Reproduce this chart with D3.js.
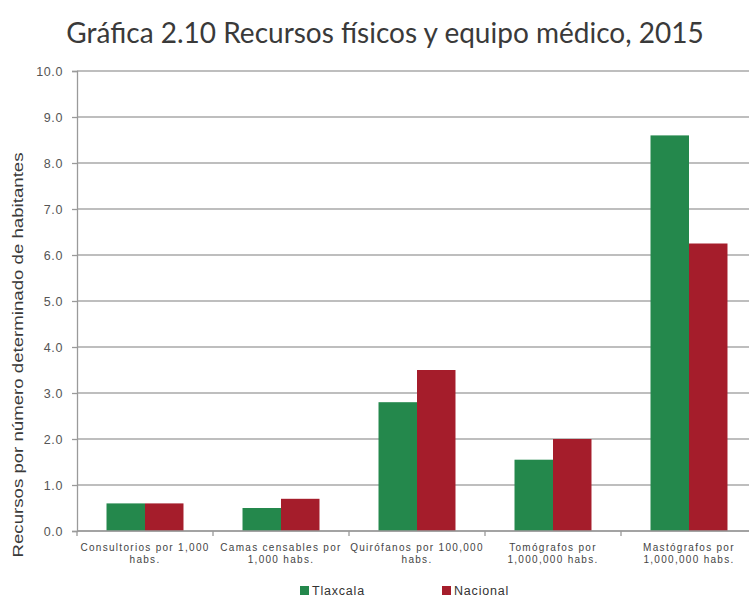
<!DOCTYPE html>
<html>
<head>
<meta charset="utf-8">
<script src="https://cdn.jsdelivr.net/npm/d3@7/dist/d3.min.js"></script>
<style>
  html, body { margin: 0; padding: 0; background: #fff; }
  svg { display: block; }
</style>
</head>
<body>
<svg id="chart" width="749" height="598"></svg>
<script>
// Resource categories (two-line axis labels)
const categories = [
  ["Consultorios por 1,000", "habs."],
  ["Camas censables  por", "1,000 habs."],
  ["Quirófanos por 100,000", "habs."],
  ["Tomógrafos por", "1,000,000 habs."],
  ["Mastógrafos por", "1,000,000 habs."]
];
const seriesNames = ["Tlaxcala", "Nacional"];
const tlaxcala = [0.6, 0.5, 2.8, 1.55, 8.6];
const nacional = [0.6, 0.7, 3.5, 2.0, 6.25];
const yTicks = [0, 1, 2, 3, 4, 5, 6, 7, 8, 9, 10];
const colors = ["#24884c", "#a51d2b"];

const svg = d3.select("#chart");
const plot = { left: 77, right: 757, top: 71, bottom: 531 };

const rows = categories.map((c, i) => ({ idx: i, label: c, values: [tlaxcala[i], nacional[i]] }));

const x0 = d3.scaleBand()
  .domain(d3.range(categories.length))
  .range([plot.left, plot.right])
  .paddingInner(0.434)
  .paddingOuter(0.217);
const x1 = d3.scaleBand()
  .domain(d3.range(seriesNames.length))
  .range([0, x0.bandwidth()]);
const y = d3.scaleLinear().domain([0, 10]).range([plot.bottom, plot.top]);

// Title
svg.append("text")
  .attr("x", 385).attr("y", 43)
  .attr("text-anchor", "middle")
  .attr("font-family", "Lato, 'Open Sans', sans-serif")
  .attr("font-size", 28)
  .attr("fill", "#3a3a3a")
  .text("Gráfica 2.10 Recursos físicos y equipo médico, 2015");

// Horizontal gridlines
svg.append("g")
  .selectAll("line")
  .data(yTicks)
  .join("line")
  .attr("x1", plot.left).attr("x2", plot.right)
  .attr("y1", d => y(d)).attr("y2", d => y(d))
  .attr("stroke", "#a9a9a9")
  .attr("stroke-width", 1.3);

// Y axis
const yAxis = d3.axisLeft(y)
  .tickValues(yTicks)
  .tickFormat(d3.format(".1f"))
  .tickSize(5)
  .tickPadding(9);
const yg = svg.append("g")
  .attr("transform", `translate(${plot.left},0)`)
  .call(yAxis);
yg.select(".domain").attr("stroke", "#9a9a9a").attr("stroke-width", 1.3);
yg.selectAll(".tick line").attr("stroke", "#9a9a9a").attr("stroke-width", 1.3);
yg.selectAll(".tick text")
  .attr("font-family", "Arial, 'Liberation Sans', sans-serif")
  .attr("font-size", 12.5)
  .attr("letter-spacing", 0.6)
  .attr("fill", "#555");

// Y axis title
svg.append("text")
  .attr("transform", "translate(23,355) rotate(-90)")
  .attr("text-anchor", "middle")
  .attr("font-family", "Arial, 'Liberation Sans', sans-serif")
  .attr("font-size", 14)
  .attr("textLength", 405)
  .attr("lengthAdjust", "spacingAndGlyphs")
  .attr("fill", "#3a3a3a")
  .text("Recursos por número determinado de habitantes");

// Bars
const groups = svg.append("g")
  .selectAll("g")
  .data(rows)
  .join("g")
  .attr("transform", d => `translate(${x0(d.idx)},0)`);
groups.selectAll("rect")
  .data(d => d.values.map((v, s) => ({ s, v })))
  .join("rect")
  .attr("x", d => x1(d.s))
  .attr("width", x1.bandwidth())
  .attr("y", d => y(d.v))
  .attr("height", d => y(0) - y(d.v))
  .attr("fill", d => colors[d.s]);

// X axis baseline with ticks at category boundaries
svg.append("line")
  .attr("x1", plot.left).attr("x2", plot.right)
  .attr("y1", y(0)).attr("y2", y(0))
  .attr("stroke", "#9a9a9a").attr("stroke-width", 1.3);
const step = x0.step();
svg.append("g")
  .selectAll("line")
  .data(d3.range(categories.length + 1))
  .join("line")
  .attr("x1", i => plot.left + i * step).attr("x2", i => plot.left + i * step)
  .attr("y1", y(0)).attr("y2", y(0) + 5)
  .attr("stroke", "#9a9a9a").attr("stroke-width", 1.3);

// Category labels
const labels = svg.append("g")
  .selectAll("text")
  .data(rows)
  .join("text")
  .attr("text-anchor", "middle")
  .attr("font-family", "Arial, 'Liberation Sans', sans-serif")
  .attr("font-size", 10)
  .attr("letter-spacing", 1.3)
  .attr("fill", "#444");
labels.selectAll("tspan")
  .data(d => d.label.map(t => ({ t, cx: x0(d.idx) + x0.bandwidth() / 2 })))
  .join("tspan")
  .attr("x", d => d.cx)
  .attr("y", (d, i) => 551 + i * 12)
  .text(d => d.t);

// Legend
const legendPos = [300, 442];
const legend = svg.append("g")
  .selectAll("g")
  .data(seriesNames)
  .join("g")
  .attr("transform", (d, i) => `translate(${legendPos[i]},586)`);
legend.append("rect")
  .attr("width", 9).attr("height", 9)
  .attr("fill", (d, i) => colors[i]);
legend.append("text")
  .attr("x", 12).attr("y", 9)
  .attr("font-family", "Arial, 'Liberation Sans', sans-serif")
  .attr("font-size", 12.5)
  .attr("letter-spacing", 0.8)
  .attr("fill", "#333")
  .text(d => d);
</script>
</body>
</html>
